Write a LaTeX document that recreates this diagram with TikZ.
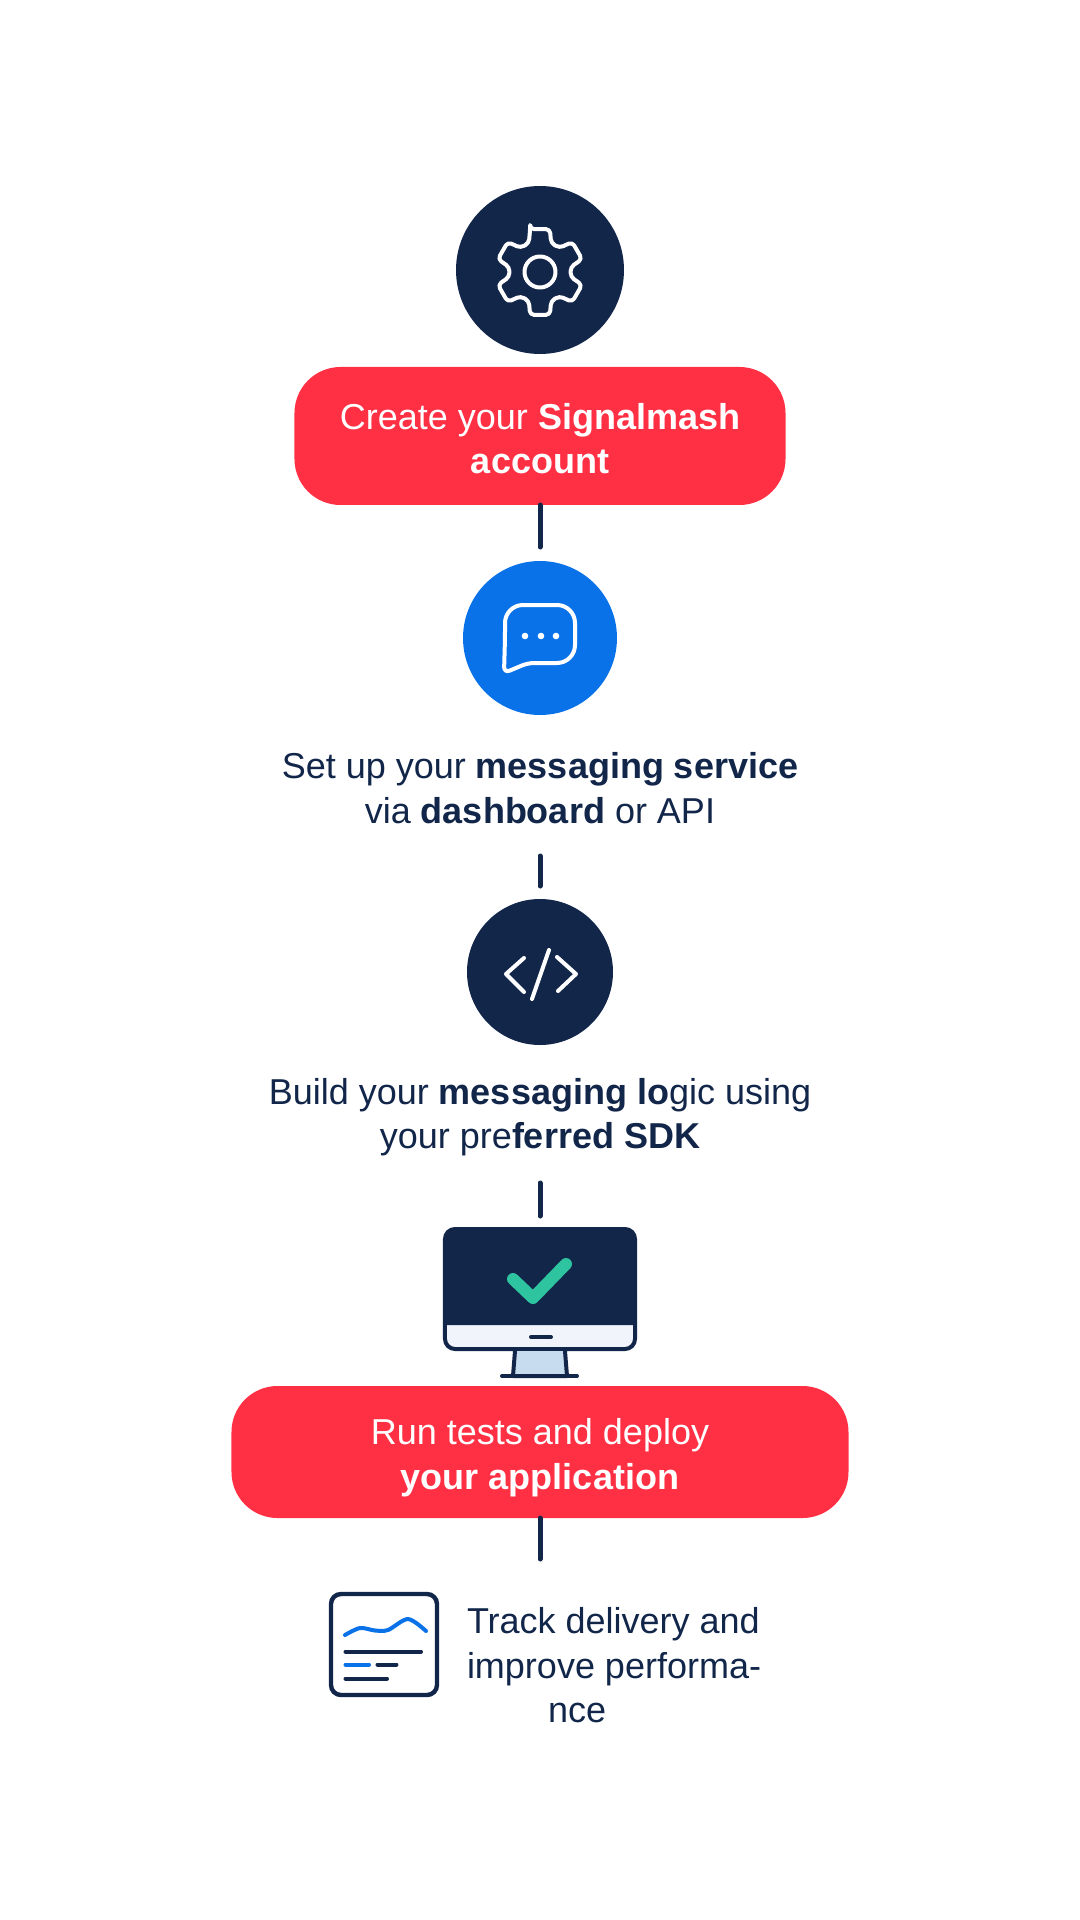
\documentclass[tikz,border=0pt]{standalone}
\usepackage{fontspec}
\usepackage{xcolor}
\setmainfont{Liberation Sans}
\usetikzlibrary{positioning}
\definecolor{navy}{HTML}{12264A}
\definecolor{signalred}{HTML}{FF3044}
\definecolor{chatblue}{HTML}{0A72E8}
\definecolor{tickgreen}{HTML}{2EC4A0}
\definecolor{standblue}{HTML}{C8DCEF}
\definecolor{stripwhite}{HTML}{F1F5FB}

\begin{document}
\begin{tikzpicture}[x=0.5pt, y=0.5pt,
  disc/.style={circle, inner sep=0pt, outer sep=0pt},
  pill/.style={fill=signalred, rounded corners=23pt, inner sep=0pt, outer sep=0pt, align=center, text=white, font=\fontsize{18}{22.3}\selectfont},
  caption/.style={inner sep=0pt, outer sep=0pt, align=center, text=navy, minimum height=42pt, font=\fontsize{18}{22.3}\selectfont},
  link/.style={draw=navy, line width=2.5pt, line cap=round},
  whiteicon/.style={draw=white, line width=2pt, line cap=round, line join=round},
  navyicon/.style={draw=navy, line width=2pt, line cap=round, line join=round}]
\useasboundingbox (-540,270) rectangle (540,-1650);
\node[disc, fill=navy, minimum size=84pt] (gear) at (0,0) {};
\node[pill, minimum width=245.5pt, minimum height=69pt, below=6.5pt of gear] (account) {\rule{0pt}{15.5pt}Create your \textbf{Signalmash}\\\textbf{account}};
\node[disc, fill=chatblue, minimum size=77pt, below=28pt of account] (chat) {};
\node[caption, below=15.5pt of chat] (service) {Set up your \textbf{messaging service}\\via \textbf{dashboard} or API};
\node[disc, fill=navy, minimum size=73pt, below=34.5pt of service] (code) {};
\node[caption, below=15pt of code] (logic) {Build your \textbf{messaging lo}gic using\\your pre\textbf{ferred SDK}};
\node[draw=navy, fill=stripwhite, line width=2pt, rounded corners=5pt, inner sep=0pt, outer sep=0pt, minimum width=95pt, minimum height=60pt, below=35pt of logic] (monitor) {};
\node[pill, minimum width=308.5pt, minimum height=66pt, below=18.5pt of monitor] (deploy) {\rule{0pt}{19pt}Run tests and deploy\\\textbf{your application}};
\node[draw=navy, line width=2.2pt, rounded corners=5pt, inner sep=0pt, outer sep=0pt, minimum width=53pt, minimum height=50.5pt, below left=38pt and 51.5pt of deploy.south] (report) {};
\node[inner sep=0pt, outer sep=0pt, align=left, text=navy, font=\fontsize{18}{22.3}\selectfont, right=15pt of report, yshift=-10.5pt] (track) {Track delivery and\\improve performa-\\\hspace*{40.5pt}nce};
\draw[link, shorten >=7pt] (account) -- (chat);
\draw[link, shorten <=13pt, shorten >=6.5pt] (service) -- (code);
\draw[link, shorten <=12pt, shorten >=6.5pt] (logic) -- (monitor);
\draw[link, shorten >=17.5pt] (deploy) -- (deploy |- report.north);
\begin{scope}[shift={(gear.center)}, yshift=-1pt]
\draw[whiteicon, rounded corners=2pt] (103:44) \foreach \a in {90,30,-30,-90,-150,-210} { -- (\a-13:44) -- (\a-21:31) -- (\a-39:31) -- (\a-47:44)} -- cycle;
\draw[whiteicon] (0,0) circle (15.5);
\end{scope}
\begin{scope}[shift={(chat.center)}]
\draw[whiteicon, rounded corners=9pt] (-35,0) -- (-35,33) -- (35,33) -- (35,-25) [rounded corners=3pt] -- (-12,-25) -- (-36,-35) -- cycle;
\foreach \x in {-15,1,16} \fill[white] (\x,2) circle (3.3);
\end{scope}
\begin{scope}[shift={(code.center)}]
\draw[whiteicon] (-16,14) -- (-34,-2) -- (-16,-20);
\draw[whiteicon] (9,22) -- (-8,-27);
\draw[whiteicon] (17,15) -- (36,-2) -- (18,-19);
\end{scope}
\begin{scope}[shift={(monitor.center)}]
\draw[navyicon, fill=standblue] (-25,-62) -- (-27,-87) -- (27,-87) -- (25,-62);
\draw[navyicon] (-38,-87) -- (37,-87);
\fill[navy] (-95,-36) [rounded corners=5pt] -- (-95,60) -- (95,60) [sharp corners] -- (95,-36) -- cycle;
\draw[navyicon] (-9,-48) -- (11,-48);
\draw[draw=tickgreen, line width=6pt, line cap=round, line join=round] (-27,10) -- (-7,-9) -- (26,25);
\end{scope}
\begin{scope}[shift={(report.center)}]
\draw[draw=chatblue, line width=2pt, line cap=round] plot[smooth, tension=0.5] coordinates {(-39,9.5) (-24,16.5) (-9,14) (4,14.5) (24,25.5) (42,13.5)};
\draw[navyicon] (-38.5,-7) -- (37,-7);
\draw[draw=chatblue, line width=2pt, line cap=round] (-38.5,-20) -- (-15,-20);
\draw[navyicon] (-6.5,-20) -- (12.5,-20);
\draw[navyicon] (-38.5,-34) -- (3,-34);
\end{scope}
\end{tikzpicture}
\end{document}
